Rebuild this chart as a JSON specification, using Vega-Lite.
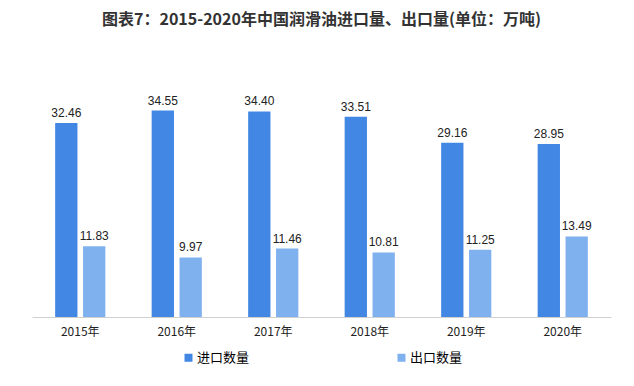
{
  "$schema": "https://vega.github.io/schema/vega-lite/v6.json",
  "width": 579,
  "height": 239,
  "autosize": {"type": "none"},
  "padding": {"left": 32, "top": 78, "right": 23, "bottom": 69},
  "background": "#ffffff",
  "title": {
    "text": "图表7：2015-2020年中国润滑油进口量、出口量(单位：万吨)",
    "fontSize": 16,
    "font": "Noto Sans CJK SC",
    "fontWeight": "bold",
    "color": "#333333",
    "anchor": "middle",
    "offset": 50
  },
  "config": {"view": {"stroke": null}, "font": "Noto Sans CJK SC"},
  "data": {
    "values": [
      {"year": "2015年", "type": "进口数量", "value": 32.46},
      {"year": "2015年", "type": "出口数量", "value": 11.83},
      {"year": "2016年", "type": "进口数量", "value": 34.55},
      {"year": "2016年", "type": "出口数量", "value": 9.97},
      {"year": "2017年", "type": "进口数量", "value": 34.40},
      {"year": "2017年", "type": "出口数量", "value": 11.46},
      {"year": "2018年", "type": "进口数量", "value": 33.51},
      {"year": "2018年", "type": "出口数量", "value": 10.81},
      {"year": "2019年", "type": "进口数量", "value": 29.16},
      {"year": "2019年", "type": "出口数量", "value": 11.25},
      {"year": "2020年", "type": "进口数量", "value": 28.95},
      {"year": "2020年", "type": "出口数量", "value": 13.49}
    ]
  },
  "encoding": {
    "x": {
      "field": "year", "type": "nominal", "title": null,
      "scale": {"paddingInner": 0.48, "paddingOuter": 0.24},
      "axis": {"labelAngle": 0, "ticks": false, "tickSize": 0, "labelPadding": 9, "labelFontSize": 12, "labelColor": "#222222", "domainColor": "#d0d0d0", "labelFont": "Noto Sans CJK SC"}
    },
    "xOffset": {"field": "type", "type": "nominal", "sort": ["进口数量", "出口数量"], "scale": {"paddingInner": 0.2}},
    "y": {"field": "value", "type": "quantitative", "scale": {"domain": [0, 40]}, "axis": null}
  },
  "layer": [
    {
      "mark": {"type": "bar"},
      "encoding": {
        "color": {
          "field": "type", "type": "nominal", "sort": ["进口数量", "出口数量"],
          "scale": {"domain": ["进口数量", "出口数量"], "range": ["#4287e3", "#80b1ef"]},
          "legend": {
            "title": null, "orient": "none", "legendX": 150, "legendY": 273,
            "direction": "horizontal", "symbolType": "square", "symbolSize": 64,
            "labelFontSize": 13, "labelColor": "#000000", "columnPadding": 145,
            "labelOffset": 2, "labelFont": "Noto Sans CJK SC"
          }
        }
      }
    },
    {
      "mark": {"type": "text", "dy": -10, "fontSize": 12, "color": "#222222", "font": "Liberation Sans"},
      "encoding": {"text": {"field": "value", "type": "quantitative", "format": ".2f"}}
    }
  ]
}
